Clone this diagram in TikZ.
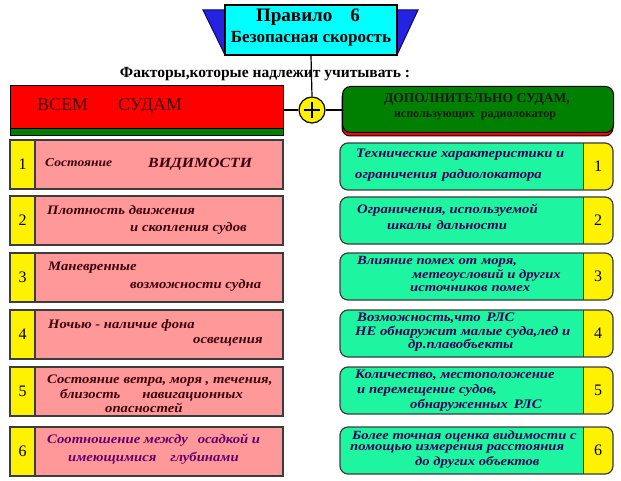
\documentclass[tikz,border=0pt]{standalone}
\usepackage{fontspec}
\setmainfont{Liberation Serif}
\newfontfamily\itwide[FakeStretch=1.13]{Liberation Serif}
\newfontfamily\itwider[FakeStretch=1.17]{Liberation Serif}
\definecolor{pinkc}{RGB}{255,153,153}
\definecolor{mintc}{RGB}{30,245,160}
\definecolor{hdrgreen}{RGB}{0,128,0}
\definecolor{titleblue}{RGB}{35,35,225}
\definecolor{titlecyan}{RGB}{0,255,255}
\definecolor{navy}{RGB}{10,10,90}
\definecolor{ltxt}{RGB}{60,0,10}
\definecolor{rtxt}{RGB}{45,0,90}
\definecolor{ptxt}{RGB}{100,0,110}
\definecolor{bord}{RGB}{60,60,60}
\definecolor{hdrtxt}{RGB}{70,0,0}
\begin{document}
\begin{tikzpicture}[x=1pt,y=-1pt,
  lt/.style={anchor=west,inner sep=0pt,font=\itwide\fontsize{13}{13}\selectfont\bfseries\itshape,text=ltxt},
  rt/.style={anchor=west,inner sep=0pt,font=\itwide\fontsize{13}{13}\selectfont\bfseries\itshape,text=rtxt},
  rts/.style={rt,font=\itwider\fontsize{12.5}{12.5}\selectfont\bfseries\itshape},
  num/.style={inner sep=0pt,font=\fontsize{16}{16}\selectfont},
  bx/.style={draw=bord,line width=1.2pt}]
\useasboundingbox[fill=white] (0,0) rectangle (621,481);

% title
\draw[navy,fill=titleblue,line width=1pt] (203,10) -- (418,10) -- (397,55) -- (225,55) -- cycle;
\node[draw=black,fill=titlecyan,line width=1.5pt,minimum width=172pt,minimum height=50pt,inner sep=0pt] (title) at (311,30) {};
\node[inner sep=0pt,font=\fontsize{19}{19}\selectfont\bfseries] (t1) at (308,17) {Правило\hspace{18pt}6};
\node[inner sep=0pt,font=\fontsize{17}{17}\selectfont\bfseries] (t2) at (311,39) {Безопасная скорость};

% plus
\node[circle,draw=black,fill=yellow,minimum size=26pt,line width=1.2pt,inner sep=0pt] (plus) at (312,110) {};
\draw[line width=1.2pt] (title.south) -- (plus.north);
\draw[line width=1.5pt] ([xshift=-8pt]plus.center) -- ([xshift=8pt]plus.center);
\draw[line width=1.5pt] ([yshift=-8pt]plus.center) -- ([yshift=8pt]plus.center);

\node[inner sep=0pt,font=\fontsize{15.5}{15.5}\selectfont\bfseries] (fact) at (265,74) {Факторы,которые надлежит учитывать :};

% left header
\draw[black,fill=hdrgreen,line width=1pt] (10,126) rectangle (283,136);
\node[draw=black,fill=red,line width=1pt,minimum width=273pt,minimum height=43pt,anchor=north west,inner sep=0pt] (redh) at (10,85) {};
\node[anchor=west,inner sep=0pt,font=\fontsize{18}{18}\selectfont,text=hdrtxt] (redt) at (37,106) {ВСЕМ\hspace{30pt}СУДАМ};

% right header
\draw[black,fill=red,line width=1pt,rounded corners=8pt] (342,90) rectangle (613,136);
\node[draw=black,fill=hdrgreen,line width=1pt,rounded corners=8pt,minimum width=271pt,minimum height=46pt,anchor=north west,inner sep=0pt] (greenh) at (342,86) {};
\node[inner sep=0pt,font=\fontsize{13.5}{13.5}\selectfont\bfseries,text=black!90] (gt1) at (477,99) {ДОПОЛНИТЕЛЬНО СУДАМ,};
\node[inner sep=0pt,font=\fontsize{12}{12}\selectfont\bfseries,text=black!90] (gt2) at (475,116) {использующих\hspace{6pt}радиолокатор};

\draw[line width=1.2pt] (plus.west) -- (plus.west -| redh.east);
\draw[line width=1.2pt] (plus.east) -- (plus.east -| greenh.west);

% left rows
\foreach \i/\t in {1/140,2/196,3/253,4/310,5/367,6/427}{
  \draw[bx,fill=pinkc] (10,\t) rectangle (283,\t+49);
  \draw[bx,fill=yellow] (10,\t) rectangle (35,\t+49);
  \node[num] (ln\i) at (22.5,\t+24.5) {\i};
}
% right rows
\foreach \i/\t in {1/143,2/197,3/253,4/310,5/367,6/427}{
  \fill[mintc,rounded corners=8pt] (340,\t) rectangle (613,\t+47);
  \begin{scope}
    \clip (583,\t-2) rectangle (616,\t+50);
    \fill[yellow,rounded corners=8pt] (340,\t) rectangle (613,\t+47);
  \end{scope}
  \draw[draw=bord,line width=1pt] (583,\t) -- (583,\t+47);
  \draw[bx,rounded corners=8pt] (340,\t) rectangle (613,\t+47);
  \node[num] (rn\i) at (598,\t+23.5) {\i};
}

% left texts
\node[lt,font=\itwide\fontsize{12}{12}\selectfont\bfseries\itshape] (l1a) at (45,163) {Состояние};
\node[lt,font=\itwide\fontsize{14}{14}\selectfont\bfseries\itshape] (l1b) at (148,164) {ВИДИМОСТИ};
\node[lt] (l2a) at (47,210) {Плотность движения};
\node[lt] (l2b) at (130,228) {и скопления судов};
\node[lt] (l3a) at (48,268) {Маневренные};
\node[lt] (l3b) at (130,285) {возможности судна};
\node[lt] (l4a) at (48,325) {Ночью - наличие фона};
\node[lt] (l4b) at (193,342) {освещения};
\node[lt] (l5a) at (47,381) {Состояние\hspace{4pt}ветра, моря , течения,};
\node[lt] (l5b) at (60,395) {близость\hspace{22pt}навигационных};
\node[lt] (l5c) at (105,408) {опасностей};
\node[lt,text=ptxt] (l6a) at (47,440) {Соотношение между\hspace{10pt}осадкой и};
\node[lt,text=ptxt] (l6b) at (68,458) {имеющимися\hspace{14pt}глубинами};

% right texts
\node[rt] (r1a) at (356,155) {Технические характеристики и};
\node[rt] (r1b) at (355,175) {ограничения\hspace{5pt}радиолокатора};
\node[rt] (r2a) at (357,210) {Ограничения, используемой};
\node[rt] (r2b) at (387,225) {шкалы\hspace{5pt}дальности};
\node[rts] (r3a) at (357,262) {Влияние помех от\hspace{4pt}моря,};
\node[rts] (r3b) at (412,275.5) {метеоусловий и других};
\node[rts] (r3c) at (410,288.5) {источников\hspace{4pt}помех};
\node[rt] (r4a) at (357,318) {Возможность,что\hspace{6pt}РЛС};
\node[rt] (r4b) at (355,332) {НЕ обнаружит малые суда,лед и};
\node[rt] (r4c) at (408,345) {др.плавобъекты};
\node[rt] (r5a) at (355,375) {Количество, местоположение};
\node[rt] (r5b) at (357,390) {и перемещение судов,};
\node[rt] (r5c) at (410,405) {обнаруженных\hspace{6pt}РЛС};
\node[rts] (r6a) at (352,436) {Более точная оценка видимости с};
\node[rts] (r6b) at (350,449) {помощью измерения расстояния};
\node[rts] (r6c) at (415,462) {до других объектов};
\end{tikzpicture}
\end{document}
